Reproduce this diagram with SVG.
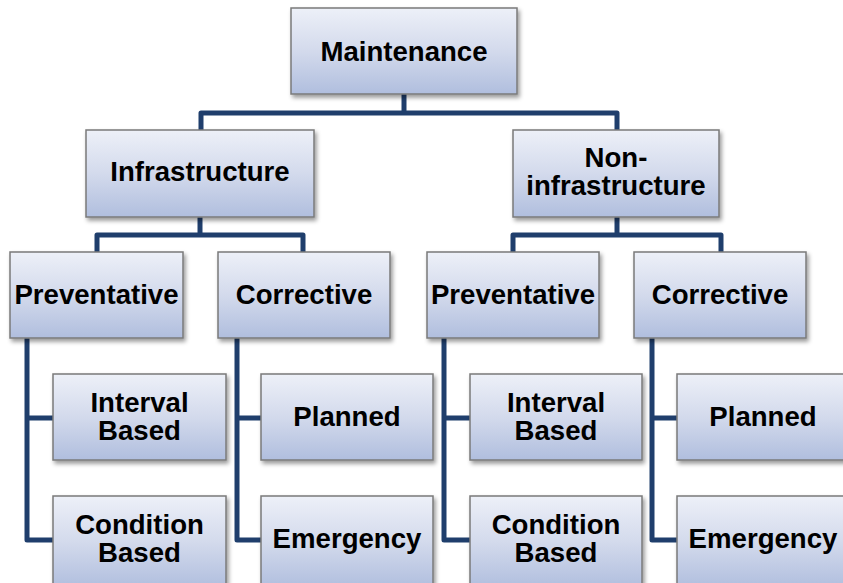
<svg xmlns="http://www.w3.org/2000/svg" width="843" height="583" viewBox="0 0 843 583">
<defs>
<linearGradient id="g" x1="0" y1="0" x2="0" y2="1">
<stop offset="0" stop-color="#EDF0F8"/>
<stop offset="0.5" stop-color="#D3DAEC"/>
<stop offset="1" stop-color="#B0BEDE"/>
</linearGradient>
<filter id="sh" x="-10%" y="-10%" width="125%" height="130%">
<feDropShadow dx="2" dy="3" stdDeviation="2" flood-color="#000" flood-opacity="0.4"/>
</filter>
</defs>
<style>
.box{fill:url(#g);stroke:#7A7A7A;stroke-width:1.5;filter:url(#sh)}
.t{font-family:"Liberation Sans",Arial,sans-serif;font-weight:bold;font-size:27.6px;fill:#000;text-anchor:middle}
.c{fill:none;stroke:#1F3E6C;stroke-width:5;stroke-linejoin:round;stroke-linecap:butt}
</style>
<rect width="843" height="583" fill="#fff"/>
<g id="connectors">
<path class="c" d="M404,94 V113"/>
<path class="c" d="M201,130 V113 H617 V130"/>
<path class="c" d="M200,217 V235"/>
<path class="c" d="M97,252 V235 H303 V252"/>
<path class="c" d="M617,217 V235"/>
<path class="c" d="M513,252 V235 H721 V252"/>
<path class="c" d="M27,338 V540 H53 M27,418 H53"/>
<path class="c" d="M237,338 V540 H261 M237,418 H261"/>
<path class="c" d="M444,338 V540 H470 M444,418 H470"/>
<path class="c" d="M652,338 V540 H677 M652,418 H677"/>
</g>
<g id="maintenance"><rect class="box" x="291" y="8" width="226" height="86"/><text class="t" x="404" y="61">Maintenance</text></g>
<g id="infrastructure"><rect class="box" x="86" y="130" width="228" height="87"/><text class="t" x="200" y="181">Infrastructure</text></g>
<g id="non-infrastructure"><rect class="box" x="513" y="130" width="206" height="87"/><text class="t" x="616" y="167">Non-</text><text class="t" x="616" y="195">infrastructure</text></g>
<g id="preventative-left"><rect class="box" x="10" y="252" width="173" height="86"/><text class="t" x="96.5" y="304">Preventative</text></g>
<g id="corrective-left"><rect class="box" x="218" y="252" width="172" height="86"/><text class="t" x="304" y="304">Corrective</text></g>
<g id="preventative-right"><rect class="box" x="427" y="252" width="172" height="86"/><text class="t" x="513" y="304">Preventative</text></g>
<g id="corrective-right"><rect class="box" x="634" y="252" width="172" height="86"/><text class="t" x="720" y="304">Corrective</text></g>
<g id="interval-left"><rect class="box" x="53" y="374" width="173" height="86"/><text class="t" x="139.5" y="412">Interval</text><text class="t" x="139.5" y="440">Based</text></g>
<g id="condition-left"><rect class="box" x="53" y="496" width="173" height="92"/><text class="t" x="139.5" y="534">Condition</text><text class="t" x="139.5" y="562">Based</text></g>
<g id="planned-left"><rect class="box" x="261" y="374" width="172" height="86"/><text class="t" x="347" y="426">Planned</text></g>
<g id="emergency-left"><rect class="box" x="261" y="496" width="172" height="92"/><text class="t" x="347" y="548">Emergency</text></g>
<g id="interval-right"><rect class="box" x="470" y="374" width="172" height="86"/><text class="t" x="556" y="412">Interval</text><text class="t" x="556" y="440">Based</text></g>
<g id="condition-right"><rect class="box" x="470" y="496" width="172" height="92"/><text class="t" x="556" y="534">Condition</text><text class="t" x="556" y="562">Based</text></g>
<g id="planned-right"><rect class="box" x="677" y="374" width="172" height="86"/><text class="t" x="763" y="426">Planned</text></g>
<g id="emergency-right"><rect class="box" x="677" y="496" width="172" height="92"/><text class="t" x="763" y="548">Emergency</text></g>
</svg>
